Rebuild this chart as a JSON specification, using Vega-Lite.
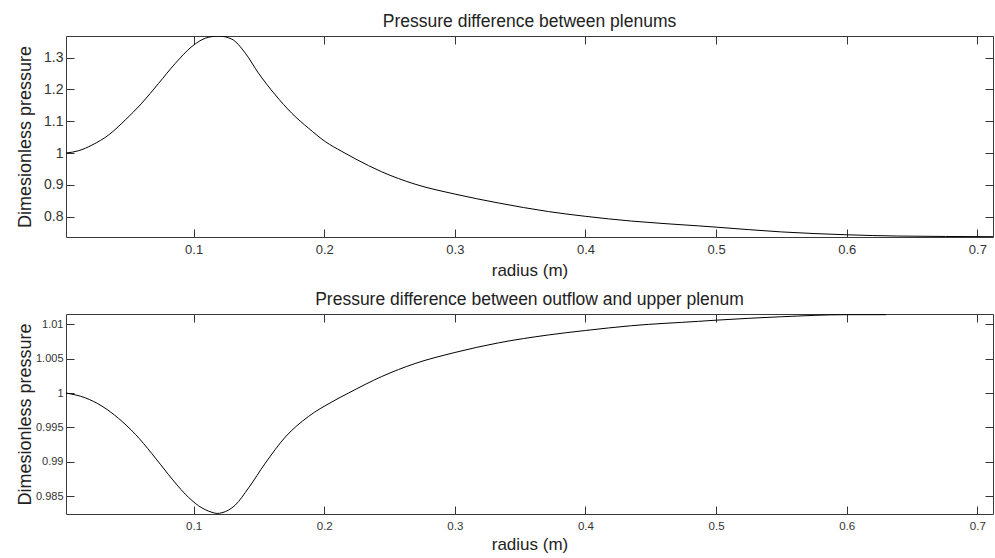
{
  "$schema": "https://vega.github.io/schema/vega-lite/v6.json",
  "autosize": {"type": "pad"},
  "padding": {"left": 15, "right": 1, "top": 12, "bottom": 0},
  "background": "white",
  "datasets": {
    "top": [
      {"r": 0.0023, "p": 1.0},
      {"r": 0.012, "p": 1.0073},
      {"r": 0.0222, "p": 1.025},
      {"r": 0.035, "p": 1.057},
      {"r": 0.0477, "p": 1.104},
      {"r": 0.0604, "p": 1.157},
      {"r": 0.0732, "p": 1.219},
      {"r": 0.086, "p": 1.282},
      {"r": 0.0987, "p": 1.335},
      {"r": 0.109, "p": 1.361},
      {"r": 0.119, "p": 1.368},
      {"r": 0.1293, "p": 1.358},
      {"r": 0.1396, "p": 1.314},
      {"r": 0.1497, "p": 1.251},
      {"r": 0.1625, "p": 1.183},
      {"r": 0.1752, "p": 1.125},
      {"r": 0.188, "p": 1.078},
      {"r": 0.2008, "p": 1.036},
      {"r": 0.2135, "p": 1.005},
      {"r": 0.2237, "p": 0.982},
      {"r": 0.244, "p": 0.941},
      {"r": 0.2696, "p": 0.902},
      {"r": 0.3, "p": 0.871},
      {"r": 0.3334, "p": 0.843},
      {"r": 0.3716, "p": 0.816},
      {"r": 0.4, "p": 0.801},
      {"r": 0.4354, "p": 0.786},
      {"r": 0.4864, "p": 0.771},
      {"r": 0.5, "p": 0.767},
      {"r": 0.55, "p": 0.752},
      {"r": 0.6, "p": 0.743},
      {"r": 0.639, "p": 0.739},
      {"r": 0.712, "p": 0.737}
    ],
    "bottom": [
      {"r": 0.0023, "p": 1.0},
      {"r": 0.0171, "p": 0.9993},
      {"r": 0.0298, "p": 0.9981},
      {"r": 0.0426, "p": 0.9963},
      {"r": 0.0554, "p": 0.9940},
      {"r": 0.068, "p": 0.9912},
      {"r": 0.0809, "p": 0.9881},
      {"r": 0.0936, "p": 0.9853},
      {"r": 0.1038, "p": 0.9836},
      {"r": 0.114, "p": 0.98265},
      {"r": 0.118, "p": 0.98248},
      {"r": 0.1217, "p": 0.98258},
      {"r": 0.1319, "p": 0.9837},
      {"r": 0.1421, "p": 0.9862},
      {"r": 0.1549, "p": 0.9898},
      {"r": 0.1702, "p": 0.9936},
      {"r": 0.188, "p": 0.9966},
      {"r": 0.2058, "p": 0.9987},
      {"r": 0.2186, "p": 1.0},
      {"r": 0.244, "p": 1.0024},
      {"r": 0.2696, "p": 1.0043},
      {"r": 0.3, "p": 1.0059},
      {"r": 0.3334, "p": 1.0073},
      {"r": 0.3716, "p": 1.00845},
      {"r": 0.4, "p": 1.0091},
      {"r": 0.4354, "p": 1.0098},
      {"r": 0.4864, "p": 1.01043},
      {"r": 0.5, "p": 1.0106},
      {"r": 0.55, "p": 1.0111},
      {"r": 0.6, "p": 1.0114},
      {"r": 0.63, "p": 1.0114}
    ]
  },
  "config": {
    "font": "Liberation Sans",
    "view": {"stroke": "#3a3a3a", "strokeWidth": 1},
    "axis": {"domain": false, "grid": false, "tickColor": "#333333", "labelColor": "#333333", "titleColor": "#222222", "titleFontWeight": "normal", "labelFont": "Liberation Sans", "titleFont": "Liberation Sans"},
    "title": {"font": "Liberation Sans", "fontWeight": "normal", "fontSize": 17.5, "color": "#222222", "offset": 5},
    "concat": {"spacing": 11}
  },
  "vconcat": [
    {
      "title": "Pressure difference between plenums",
      "width": 927,
      "height": 201,
      "data": {"name": "top"},
      "layer": [
        {
          "mark": {"type": "line", "color": "black", "strokeWidth": 1, "interpolate": "monotone", "clip": true},
          "encoding": {
            "x": {"field": "r", "type": "quantitative", "scale": {"domain": [0.0023, 0.712], "nice": false, "zero": false},
              "axis": {"orient": "bottom", "values": [0.1, 0.2, 0.3, 0.4, 0.5, 0.6, 0.7], "format": "~g", "tickSize": -8, "labelPadding": 14, "labelFontSize": 13, "title": "radius (m)", "titleFontSize": 17, "titlePadding": 6}},
            "y": {"field": "p", "type": "quantitative", "scale": {"domain": [0.736, 1.368], "nice": false, "zero": false},
              "axis": {"orient": "left", "values": [0.8, 0.9, 1, 1.1, 1.2, 1.3], "format": "~g", "tickSize": -8, "labelPadding": 11, "labelFontSize": 14, "title": "Dimesionless pressure", "titleFontSize": 18, "titlePadding": 4, "minExtent": 28, "maxExtent": 28}}
          }
        },
        {
          "mark": {"type": "line", "strokeOpacity": 0},
          "encoding": {
            "x": {"field": "r", "type": "quantitative", "axis": {"orient": "top", "values": [0.1, 0.2, 0.3, 0.4, 0.5, 0.6, 0.7], "tickSize": -8, "labels": false, "title": null}},
            "y": {"field": "p", "type": "quantitative", "axis": {"orient": "right", "values": [0.8, 0.9, 1, 1.1, 1.2, 1.3], "tickSize": -8, "labels": false, "title": null}}
          }
        }
      ],
      "resolve": {"axis": {"x": "independent", "y": "independent"}}
    },
    {
      "title": "Pressure difference between outflow and upper plenum",
      "width": 927,
      "height": 200,
      "data": {"name": "bottom"},
      "layer": [
        {
          "mark": {"type": "line", "color": "black", "strokeWidth": 1, "interpolate": "monotone", "clip": true},
          "encoding": {
            "x": {"field": "r", "type": "quantitative", "scale": {"domain": [0.0023, 0.712], "nice": false, "zero": false},
              "axis": {"orient": "bottom", "values": [0.1, 0.2, 0.3, 0.4, 0.5, 0.6, 0.7], "format": "~g", "tickSize": -8, "labelPadding": 14, "labelFontSize": 11.5, "title": "radius (m)", "titleFontSize": 17, "titlePadding": 5}},
            "y": {"field": "p", "type": "quantitative", "scale": {"domain": [0.9824, 1.0115], "nice": false, "zero": false},
              "axis": {"orient": "left", "values": [0.985, 0.99, 0.995, 1, 1.005, 1.01], "format": "~g", "tickSize": -8, "labelPadding": 11, "labelFontSize": 11, "title": "Dimesionless pressure", "titleFontSize": 18, "titlePadding": 4, "minExtent": 28, "maxExtent": 28}}
          }
        },
        {
          "mark": {"type": "line", "strokeOpacity": 0},
          "encoding": {
            "x": {"field": "r", "type": "quantitative", "axis": {"orient": "top", "values": [0.1, 0.2, 0.3, 0.4, 0.5, 0.6, 0.7], "tickSize": -8, "labels": false, "title": null}},
            "y": {"field": "p", "type": "quantitative", "axis": {"orient": "right", "values": [0.985, 0.99, 0.995, 1, 1.005, 1.01], "tickSize": -8, "labels": false, "title": null}}
          }
        }
      ],
      "resolve": {"axis": {"x": "independent", "y": "independent"}}
    }
  ]
}
